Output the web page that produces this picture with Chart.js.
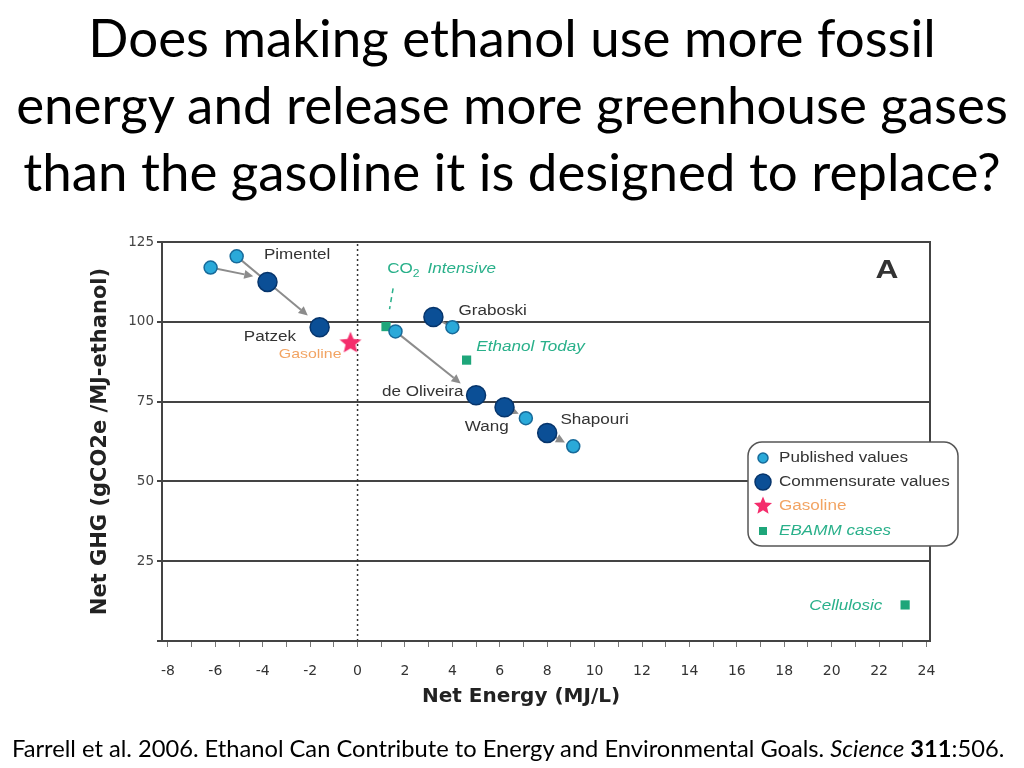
<!DOCTYPE html>
<html>
<head>
<meta charset="utf-8">
<script src="https://cdn.jsdelivr.net/npm/chart.js@4.4.1/dist/chart.umd.min.js"></script>
<style>
  html, body { margin: 0; padding: 0; background: #fff; width: 1024px; height: 768px; overflow: hidden; }
  #wrap { position: absolute; left: 0; top: 0; width: 1024px; height: 768px; }
  #title { position: absolute; left: 0; top: 3px; width: 1024px; text-align: center; font-family: Lato, "Open Sans", sans-serif; color: #000; line-height: 67px; white-space: nowrap; }
  #footer { position: absolute; left: 12px; top: 736px; font-family: Lato, "Open Sans", sans-serif; color: #000; white-space: nowrap; line-height: 24px; }
</style>
</head>
<body>
<div id="wrap"><canvas id="c" width="1024" height="768"></canvas></div>
<div id="title"><div>Does making ethanol use more fossil</div><div id="tl2">energy and release more greenhouse gases</div><div>than the gasoline it is designed to replace?</div></div>
<div id="footer">Farrell et al. 2006. Ethanol Can Contribute to Energy and Environmental Goals. <i>Science</i> <b>311</b>:506.</div>
<script>
// ---------------- DATA ----------------
const xTickLabels = [-8, -6, -4, -2, 0, 2, 4, 6, 8, 10, 12, 14, 16, 18, 20, 22, 24];
const yTickLabels = [25, 50, 75, 100, 125];

const publishedX = [-6.2, -5.1, 1.6, 4.0, 7.1, 9.1];
const publishedY = [117, 120.5, 97, 98.3, 69.8, 61];

const commensurateX = [-3.8, -1.6, 3.2, 5.0, 6.2, 8.0];
const commensurateY = [112.5, 98.3, 101.5, 77, 73.2, 65.2];

const gasolineX = [-0.3];
const gasolineY = [93.3];

const ebammX = [1.2, 4.6, 23.1];
const ebammY = [98.5, 88, 11.3];

// arrows: published -> commensurate adjustments
const arrowFromX = [-6.2, -5.1, -3.8, 1.6, 6.2, 8.0, 3.2];
const arrowFromY = [117, 120.5, 112.5, 97, 73.2, 65.2, 101.5];
const arrowToX   = [-4.4, -3.8, -2.1, 4.35, 6.8, 8.75, 4.0];
const arrowToY   = [114.3, 112.5, 102, 80.7, 71.2, 62.2, 98.3];
const arrowHead  = [true, false, true, true, true, true, false];

// text annotations
const noteText = ['Pimentel', 'Patzek', 'Graboski', 'de Oliveira', 'Wang', 'Shapouri'];
const noteX = [-2.55, -3.7, 5.7, 2.75, 5.45, 10.0];
const noteY = [120.8, 95.3, 103.4, 77.9, 67.0, 69.3];

const greenNoteText = ['Ethanol Today', 'Cellulosic'];
const greenNoteX = [7.3, 20.6];
const greenNoteY = [92.2, 11.0];

const gasNoteX = -2.0, gasNoteY = 89.8;
const co2NoteX = 1.25, co2NoteY = 116.5;
const co2LeaderX = [1.5, 1.35];
const co2LeaderY = [110.5, 104];

const zeroLineX = 0;

const legendLabels = ['Published values', 'Commensurate values', 'Gasoline', 'EBAMM cases'];

// ---------------- STYLES ----------------
const C_PUB = '#2aa9d9', C_PUB_B = '#176a9a';
const C_COM = '#0b4f96', C_COM_B = '#06356c';
const C_STAR = '#f42d6c';
const C_GREEN = '#1ea67a';
const C_GREEN_T = '#29b08a';
const C_GAS_T = '#f2a463';
const C_ARROW = '#8c8c8c';
const AXIS_FONT = '"Liberation Sans", Arial, sans-serif';
const TICK_FONT = '"DejaVu Sans", sans-serif';
const STRETCH = 1.22;

// fit title and footer widths
(function fit() {
  const m = document.createElement('canvas').getContext('2d');
  m.font = '100px Lato';
  const w2 = m.measureText('energy and release more greenhouse gases').width;
  const ts = 100 * 993 / w2;
  document.getElementById('title').style.fontSize = ts.toFixed(2) + 'px';
  const f = document.getElementById('footer');
  f.style.fontSize = '20px';
  const fw = f.getBoundingClientRect().width;
  f.style.fontSize = (20 * 993 / fw).toFixed(2) + 'px';
})();

// star image
function makeStar(size, color) {
  const cv = document.createElement('canvas');
  cv.width = size; cv.height = size;
  const g = cv.getContext('2d');
  const cx = size / 2, cy = size / 2, ro = size / 2 - 0.5, ri = ro * 0.45;
  g.beginPath();
  for (let i = 0; i < 10; i++) {
    const r = i % 2 === 0 ? ro : ri;
    const a = -Math.PI / 2 + i * Math.PI / 5;
    const px = cx + r * Math.cos(a), py = cy + r * Math.sin(a);
    if (i === 0) g.moveTo(px, py); else g.lineTo(px, py);
  }
  g.closePath();
  g.fillStyle = color;
  g.fill();
  return cv;
}
const starImg = makeStar(24, C_STAR);
const starSmall = makeStar(20, C_STAR);

const toPts = (xs, ys) => xs.map((x, i) => ({ x: x, y: ys[i] }));

// horizontally stretched text (the source figure is widened)
function sText(ctx, text, x, y, align) {
  ctx.save();
  ctx.translate(x, y);
  ctx.scale(STRETCH, 1);
  ctx.textAlign = align || 'center';
  ctx.fillText(text, 0, 0);
  ctx.restore();
  return ctx.measureText(text).width * STRETCH;
}

// ---------------- PLUGINS ----------------
const framePlugin = {
  id: 'frame',
  beforeDatasetsDraw(chart) {
    const { ctx, scales: { x, y } } = chart;
    ctx.save();
    ctx.strokeStyle = C_ARROW; ctx.fillStyle = C_ARROW; ctx.lineWidth = 2;
    for (let i = 0; i < arrowFromX.length; i++) {
      const x1 = x.getPixelForValue(arrowFromX[i]), y1 = y.getPixelForValue(arrowFromY[i]);
      const x2 = x.getPixelForValue(arrowToX[i]), y2 = y.getPixelForValue(arrowToY[i]);
      const ang = Math.atan2(y2 - y1, x2 - x1);
      const hl = arrowHead[i] ? 9 : 0;
      ctx.beginPath();
      ctx.moveTo(x1, y1);
      ctx.lineTo(x2 - hl * Math.cos(ang), y2 - hl * Math.sin(ang));
      ctx.stroke();
      if (arrowHead[i]) {
        ctx.beginPath();
        ctx.moveTo(x2, y2);
        ctx.lineTo(x2 - hl * Math.cos(ang) + 4.5 * Math.sin(ang), y2 - hl * Math.sin(ang) - 4.5 * Math.cos(ang));
        ctx.lineTo(x2 - hl * Math.cos(ang) - 4.5 * Math.sin(ang), y2 - hl * Math.sin(ang) + 4.5 * Math.cos(ang));
        ctx.closePath();
        ctx.fill();
      }
    }
    ctx.restore();
  },
  afterDraw(chart) {
    const { ctx, chartArea: a, scales: { x, y } } = chart;
    ctx.save();
    // frame
    ctx.strokeStyle = '#444'; ctx.lineWidth = 2;
    ctx.strokeRect(a.left, a.top, a.right - a.left, a.bottom - a.top);

    // annotations
    ctx.textBaseline = 'middle';
    ctx.font = '14px ' + AXIS_FONT;
    ctx.fillStyle = '#333';
    noteText.forEach((t, i) => sText(ctx, t, x.getPixelForValue(noteX[i]), y.getPixelForValue(noteY[i])));
    ctx.fillStyle = C_GAS_T;
    ctx.font = '13px ' + AXIS_FONT;
    sText(ctx, 'Gasoline', x.getPixelForValue(gasNoteX), y.getPixelForValue(gasNoteY));
    ctx.fillStyle = C_GREEN_T;
    ctx.font = 'italic 14px ' + AXIS_FONT;
    greenNoteText.forEach((t, i) => sText(ctx, t, x.getPixelForValue(greenNoteX[i]), y.getPixelForValue(greenNoteY[i])));
    // CO2 Intensive with subscript
    let cx = x.getPixelForValue(co2NoteX), cy = y.getPixelForValue(co2NoteY);
    ctx.font = '14px ' + AXIS_FONT;
    cx += sText(ctx, 'CO', cx, cy, 'left');
    ctx.font = '10px ' + AXIS_FONT;
    cx += sText(ctx, '2', cx, cy + 5, 'left') + 8;
    ctx.font = 'italic 14px ' + AXIS_FONT;
    sText(ctx, 'Intensive', cx, cy, 'left');

    // panel letter
    ctx.fillStyle = '#333';
    ctx.font = 'bold 26px ' + AXIS_FONT;
    sText(ctx, 'A', a.right - 43, a.top + 29);

    // legend box
    const lx = a.right - 182, ly = a.top + 200, lw = 210, lh = 104, r = 14;
    ctx.beginPath();
    ctx.moveTo(lx + r, ly);
    ctx.arcTo(lx + lw, ly, lx + lw, ly + lh, r);
    ctx.arcTo(lx + lw, ly + lh, lx, ly + lh, r);
    ctx.arcTo(lx, ly + lh, lx, ly, r);
    ctx.arcTo(lx, ly, lx + lw, ly, r);
    ctx.closePath();
    ctx.fillStyle = '#fff'; ctx.fill();
    ctx.strokeStyle = '#555'; ctx.lineWidth = 1.5; ctx.stroke();

    const mx = lx + 15, tx = lx + 31;
    const rows = [ly + 16, ly + 40, ly + 64, ly + 89];
    ctx.beginPath(); ctx.arc(mx, rows[0], 5, 0, Math.PI * 2);
    ctx.fillStyle = C_PUB; ctx.fill(); ctx.strokeStyle = C_PUB_B; ctx.lineWidth = 1.5; ctx.stroke();
    ctx.beginPath(); ctx.arc(mx, rows[1], 8, 0, Math.PI * 2);
    ctx.fillStyle = C_COM; ctx.fill(); ctx.strokeStyle = C_COM_B; ctx.stroke();
    ctx.drawImage(starSmall, mx - 10, rows[2] - 10);
    ctx.fillStyle = C_GREEN; ctx.fillRect(mx - 4, rows[3] - 4, 8, 8);

    ctx.font = '14px ' + AXIS_FONT;
    ctx.fillStyle = '#333';
    sText(ctx, legendLabels[0], tx, rows[0], 'left');
    sText(ctx, legendLabels[1], tx, rows[1], 'left');
    ctx.fillStyle = C_GAS_T;
    sText(ctx, legendLabels[2], tx, rows[2], 'left');
    ctx.fillStyle = C_GREEN_T;
    ctx.font = 'italic 14px ' + AXIS_FONT;
    sText(ctx, legendLabels[3], tx, rows[3], 'left');
    ctx.restore();
  }
};

// ---------------- CHART ----------------
const minorTicks = [];
for (let v = xTickLabels[0]; v <= xTickLabels[xTickLabels.length - 1]; v++) minorTicks.push(v);

new Chart(document.getElementById('c'), {
  type: 'scatter',
  data: {
    datasets: [
      {
        label: 'zero', type: 'line',
        data: [{ x: zeroLineX, y: 0 }, { x: zeroLineX, y: 125 }],
        borderColor: '#333', borderWidth: 1.5, borderDash: [2, 3], pointRadius: 0, order: 10
      },
      {
        label: 'co2 leader', type: 'line',
        data: toPts(co2LeaderX, co2LeaderY),
        borderColor: C_GREEN_T, borderWidth: 1.5, borderDash: [5, 4], pointRadius: 0, order: 9
      },
      {
        label: 'EBAMM cases', data: toPts(ebammX, ebammY),
        pointStyle: 'rect', pointRadius: 6.5, backgroundColor: C_GREEN, borderColor: C_GREEN, borderWidth: 0, order: 4
      },
      {
        label: 'Published values', data: toPts(publishedX, publishedY),
        pointStyle: 'circle', pointRadius: 6.5, backgroundColor: C_PUB, borderColor: C_PUB_B, borderWidth: 1.5, order: 2
      },
      {
        label: 'Commensurate values', data: toPts(commensurateX, commensurateY),
        pointStyle: 'circle', pointRadius: 9.5, backgroundColor: C_COM, borderColor: C_COM_B, borderWidth: 1.5, order: 3
      },
      {
        label: 'Gasoline', data: toPts(gasolineX, gasolineY),
        pointStyle: starImg, pointRadius: 12, order: 1
      }
    ]
  },
  options: {
    responsive: false,
    animation: false,
    devicePixelRatio: 1,
    layout: { padding: { left: 80, right: 94, top: 242, bottom: 52 } },
    plugins: { legend: { display: false }, tooltip: { enabled: false }, title: { display: false } },
    scales: {
      x: {
        type: 'linear', position: 'bottom', min: -8.25, max: 24.15,
        afterBuildTicks: (axis) => { axis.ticks = minorTicks.map(v => ({ value: v })); },
        afterFit: (axis) => { axis.height = 75; },
        ticks: {
          autoSkip: false, maxRotation: 0, padding: 16, color: '#333',
          font: { family: TICK_FONT, size: 14 },
          callback: (v) => (xTickLabels.includes(v) ? String(v) : '')
        },
        grid: { drawOnChartArea: false, drawTicks: true, tickLength: 6, color: '#777', lineWidth: 1 },
        border: { display: true, color: '#444', width: 2 },
        title: { display: true, text: 'Net Energy (MJ/L)\u2002\u2002\u2002\u2002\u2002', color: '#222', font: { family: TICK_FONT, size: 20, weight: 'bold' }, padding: { top: 0, bottom: 7 } }
      },
      y: {
        type: 'linear', position: 'left', min: 0, max: 125,
        afterBuildTicks: (axis) => { axis.ticks = [0].concat(yTickLabels).map(v => ({ value: v })); },
        afterFit: (axis) => { axis.width = 82; },
        ticks: {
          autoSkip: false, padding: 3, color: '#444',
          font: { family: TICK_FONT, size: 13.5 },
          callback: (v) => (yTickLabels.includes(v) ? String(v) : '')
        },
        grid: { drawOnChartArea: true, drawTicks: true, tickLength: 5, color: '#444', lineWidth: 2 },
        border: { display: true, color: '#444', width: 2 },
        title: { display: true, text: 'Net GHG (gCO2e /MJ-ethanol)', color: '#222', font: { family: TICK_FONT, size: 21, weight: 'bold' }, padding: { top: 8, bottom: 0 } }
      }
    }
  },
  plugins: [framePlugin]
});
</script>
</body>
</html>
